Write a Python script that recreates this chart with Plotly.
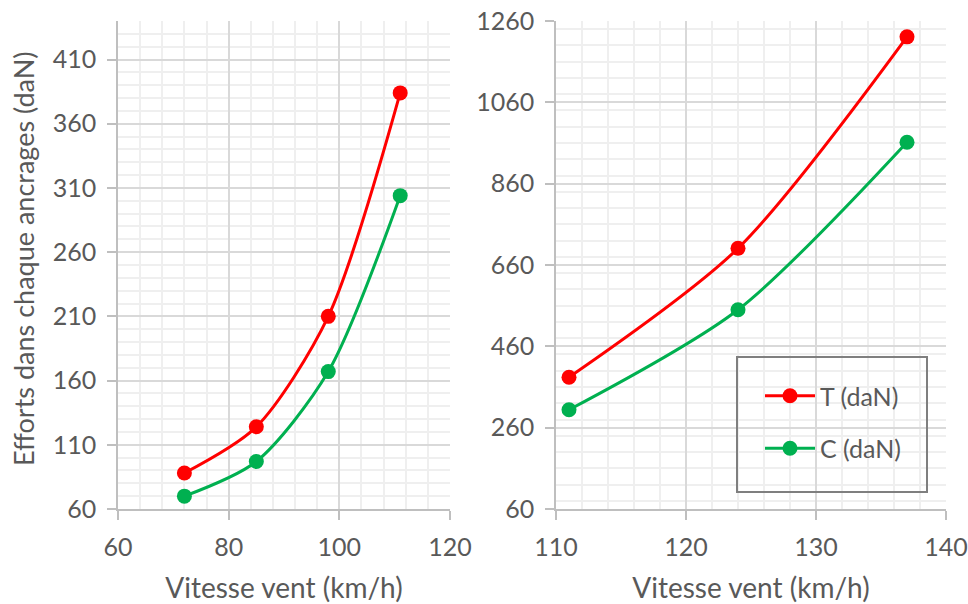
import plotly.graph_objects as go
from plotly.subplots import make_subplots

# left panel: lower wind speeds
v_low = [72, 85, 98, 111]
t_low = [88, 124, 210, 384]
c_low = [70, 97, 167, 304]

# right panel: higher wind speeds
v_high = [111, 124, 137]
t_high = [384, 701, 1221]
c_high = [304, 550, 962]

RED = '#ff0000'
GREEN = '#00b050'
TXT = '#595959'
FONT = 'Lato, Open Sans, sans-serif'

W, H = 968, 604


def px(x):
    return x / W


def py(y):
    return 1 - y / H


fig = make_subplots(rows=1, cols=2)

series = [
    (v_low, t_low, 'T (daN)', RED, 1, False),
    (v_low, c_low, 'C (daN)', GREEN, 1, False),
    (v_high, t_high, 'T (daN)', RED, 2, True),
    (v_high, c_high, 'C (daN)', GREEN, 2, True),
]
for x, y, name, col, c, show in series:
    fig.add_trace(go.Scatter(
        x=x, y=y, name=name, mode='lines+markers',
        line={'color': col, 'width': 3, 'shape': 'spline', 'smoothing': 0.8},
        marker={'color': col, 'size': 15},
        showlegend=show, legendgroup=name,
    ), row=1, col=c)

axis_common = dict(
    showgrid=True, gridcolor='#d9d9d9', gridwidth=1.5,
    showline=True, linecolor='#bfbfbf', linewidth=1.5,
    ticks='outside', ticklen=9, tickcolor='#bfbfbf', tickwidth=1.5,
    tickfont={'size': 25, 'color': TXT, 'family': FONT},
    zeroline=False, automargin=False, ticklabelstandoff=6,
    ticklabeloverflow='allow',
)
minor_style = {'showgrid': True, 'gridcolor': '#efefef', 'gridwidth': 1.5}
xtitle = {'text': 'Vitesse vent (km/h)', 'standoff': 27,
          'font': {'size': 28, 'color': TXT, 'family': FONT}}

fig.update_xaxes(**axis_common)
fig.update_yaxes(**axis_common)

fig.update_xaxes(range=[60, 120], tick0=60, dtick=20,
                 minor={'dtick': 4, **minor_style},
                 domain=[px(118), px(450)], title=xtitle, row=1, col=1)
fig.update_yaxes(range=[60, 440], tick0=60, dtick=50,
                 minor={'dtick': 10, **minor_style},
                 domain=[py(509), py(21)], row=1, col=1)
fig.update_xaxes(range=[110, 140], tick0=110, dtick=10,
                 minor={'dtick': 2, **minor_style},
                 domain=[px(556), px(946)], title=xtitle, row=1, col=2)
fig.update_yaxes(range=[60, 1260], tick0=60, dtick=200,
                 minor={'dtick': 40, **minor_style},
                 domain=[py(509), py(21)], row=1, col=2)

# y axis title of the left panel
fig.add_annotation(text='Efforts dans chaque ancrages (daN)', textangle=-90,
                   xref='paper', yref='paper', x=px(23), y=py(259),
                   xanchor='center', yanchor='middle', showarrow=False,
                   font={'size': 27, 'color': TXT, 'family': FONT})

# legend frame (transparent, gridlines show through)
fig.add_shape(type='rect', xref='paper', yref='paper',
              x0=px(737), x1=px(927), y0=py(492), y1=py(357),
              line={'color': '#7f7f7f', 'width': 2}, fillcolor='rgba(0,0,0,0)', layer='above')

fig.update_layout(
    width=W, height=H,
    margin={'l': 0, 'r': 0, 't': 0, 'b': 0},
    paper_bgcolor='white', plot_bgcolor='white',
    font={'family': FONT, 'color': TXT},
    legend={'x': px(760), 'y': py(373), 'xanchor': 'left', 'yanchor': 'top',
            'bgcolor': 'rgba(0,0,0,0)', 'borderwidth': 0,
            'font': {'size': 25, 'color': TXT, 'family': FONT},
            'tracegroupgap': 17, 'itemwidth': 50},
)

# drop the browser's default body margin so the figure fills the window
fig.write_html('out.html', config={'displayModeBar': False},
               post_script="document.body.style.margin='0';")
